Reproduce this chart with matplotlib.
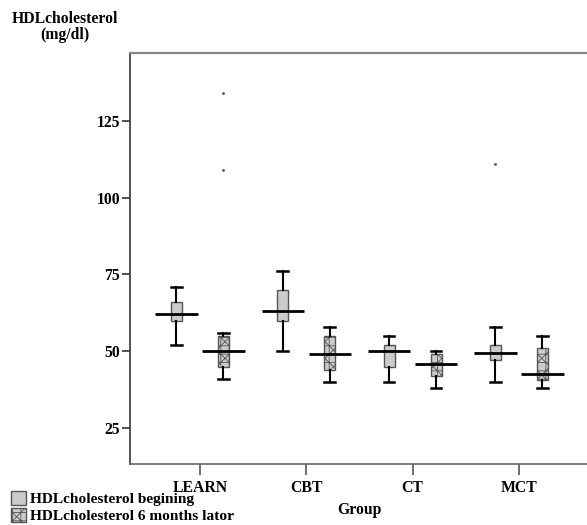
import matplotlib
matplotlib.use("Agg")
import matplotlib.pyplot as plt
from matplotlib.patches import Patch

# values (mg/dl)
groups = ["LEARN", "CBT", "CT", "MCT"]
series = ["HDLcholesterol begining", "HDLcholesterol 6 months lator"]

begin_whislo = [52, 50, 40, 40]
begin_q1 = [60, 60, 45, 47]
begin_med = [62, 63, 50, 49.5]
begin_q3 = [66, 70, 52, 52]
begin_whishi = [71, 76, 55, 58]
begin_fliers = [[], [], [], [111]]

after_whislo = [41, 40, 38, 38]
after_q1 = [45, 44, 42, 40.5]
after_med = [50, 49, 46, 42.5]
after_q3 = [55, 55, 49, 51]
after_whishi = [56, 58, 50, 55]
after_fliers = [[134, 109], [], [], []]

yticks = [25, 50, 75, 100, 125]

plt.rcParams['font.family'] = ['Liberation Serif', 'DejaVu Serif']
plt.rcParams['font.weight'] = 'bold'
plt.rcParams['hatch.linewidth'] = 0.6
plt.rcParams['hatch.color'] = '#555555'

fig = plt.figure(figsize=(5.87, 5.25), dpi=100)
ax = fig.add_axes([130 / 587, 1 - 463.7 / 525, 1 - 130 / 587, (463.7 - 53.3) / 525])

off = 0.221
bw = 0.103
hatch_after = 'xx++'


def stats(lo, q1, med, q3, hi, fl):
    return [dict(whislo=a, q1=b, med=c, q3=d, whishi=e, fliers=f)
            for a, b, c, d, e, f in zip(lo, q1, med, q3, hi, fl)]


sets = [
    (stats(begin_whislo, begin_q1, begin_med, begin_q3, begin_whishi, begin_fliers), -off, None, begin_med),
    (stats(after_whislo, after_q1, after_med, after_q3, after_whishi, after_fliers), off, hatch_after, after_med),
]
for st, dx, hatch, meds in sets:
    pos = [i + dx for i in range(len(groups))]
    b = ax.bxp(st, positions=pos, widths=bw, capwidths=0.1, patch_artist=True,
               boxprops=dict(facecolor='#cccccc', edgecolor='#555555', linewidth=1.0),
               whiskerprops=dict(color='black', linewidth=1.5),
               capprops=dict(color='black', linewidth=1.8),
               medianprops=dict(linewidth=0),
               flierprops=dict(marker='s', markersize=1.0, markerfacecolor='#666666',
                               markeredgecolor='#666666'),
               manage_ticks=False)
    for p in b['boxes']:
        p.set_hatch(hatch)
        p.set_zorder(2)
    ax.hlines(meds, [p - 0.2 for p in pos], [p + 0.2 for p in pos],
              color='black', linewidth=2.0, zorder=3)

ax.set_xlim(-0.658, 3.64)
ax.set_ylim(13.37, 147.05)
ax.set_xticks(range(len(groups)))
ax.set_xticklabels(groups, fontsize=11.3, fontweight='bold')
ax.set_yticks(yticks)
ax.set_yticklabels([str(v) for v in yticks], fontsize=11.3, fontweight='bold')
ax.tick_params(axis='x', length=8, width=1.2, color='#555555', pad=4)
ax.tick_params(axis='y', length=6, width=1.2, color='#333333', pad=1)

ax.spines['right'].set_visible(False)
ax.spines['left'].set_color('#333333')
ax.spines['left'].set_linewidth(1.2)
ax.spines['bottom'].set_color('#666666')
ax.spines['bottom'].set_linewidth(1.2)
ax.spines['top'].set_color('#888888')
ax.spines['top'].set_linewidth(1.6)

fig.text(65 / 587, 1 - 19 / 525, "HDLcholesterol", ha='center', va='center', fontsize=11.3, fontweight='bold')
fig.text(65 / 587, 1 - 35 / 525, "(mg/dl)", ha='center', va='center', fontsize=11.3, fontweight='bold')
fig.text(359 / 587, 1 - 510 / 525, "Group", ha='center', va='center', fontsize=11.3, fontweight='bold')

handles = [Patch(facecolor='#cccccc', edgecolor='#555555'),
           Patch(facecolor='#cccccc', edgecolor='#555555', hatch=hatch_after)]
fig.legend(handles, series, loc='lower left', bbox_to_anchor=(11 / 587, 2 / 525),
           frameon=False, fontsize=11.1, handlelength=1.0, handleheight=1.0,
           handletextpad=0.25, labelspacing=0.1, borderpad=0, borderaxespad=0)

fig.savefig("out.png", dpi=100)
